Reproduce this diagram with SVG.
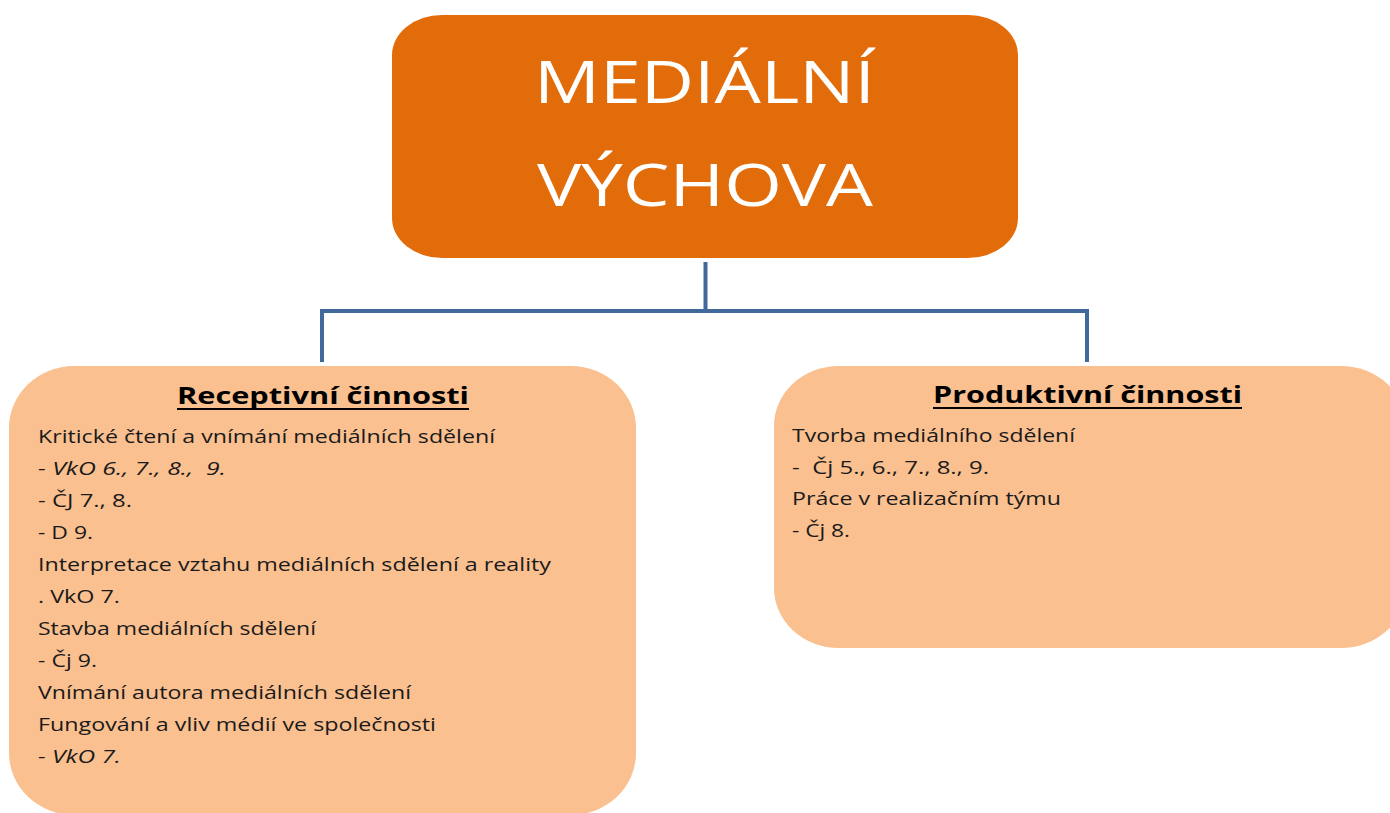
<svg xmlns="http://www.w3.org/2000/svg" width="1390" height="813" viewBox="0 0 1390 813">
<style>
.title{font-family:"Open Sans","Liberation Sans",sans-serif;font-size:59px;fill:#ffffff}
.head{font-family:"Open Sans","Liberation Sans",sans-serif;font-size:23px;font-weight:bold;fill:#000000}
.body{font-family:"Open Sans","Liberation Sans",sans-serif;font-size:18px;fill:#1a1a1a;white-space:pre}
.it{font-style:italic}
.conn{stroke:#41699b;stroke-width:4;fill:none}
.ul{stroke:#000000;stroke-width:2}
</style>
<rect width="1390" height="813" fill="#ffffff"/>
<g id="connectors">
<path class="conn" d="M705.5 262 V311 M322 311 H1087 M322 309 V362 M1087 309 V362"/>
</g>
<g id="node-medialni-vychova">
<rect x="392" y="15" width="626" height="243" rx="50" ry="40" fill="#e36c0a"/>
<text class="title" x="534" y="103" textLength="341" lengthAdjust="spacingAndGlyphs">MEDIÁLNÍ</text>
<text class="title" x="537" y="206" textLength="336" lengthAdjust="spacingAndGlyphs">VÝCHOVA</text>
</g>
<g id="node-receptivni">
<rect x="9" y="366" width="627" height="449" rx="65" ry="62" fill="#fac090"/>
<text class="head" x="177" y="404" textLength="292" lengthAdjust="spacingAndGlyphs">Receptivní činnosti</text>
<line class="ul" x1="177" y1="409" x2="469" y2="409"/>
<text class="body" x="38" y="443" textLength="457" lengthAdjust="spacingAndGlyphs">Kritické čtení a vnímání mediálních sdělení</text>
<text class="body it" x="38" y="475" textLength="188" lengthAdjust="spacingAndGlyphs" xml:space="preserve">- VkO 6., 7., 8.,  9.</text>
<text class="body" x="38" y="507" textLength="94" lengthAdjust="spacingAndGlyphs">- ČJ 7., 8.</text>
<text class="body" x="38" y="539" textLength="55" lengthAdjust="spacingAndGlyphs">- D 9.</text>
<text class="body" x="38" y="571" textLength="513" lengthAdjust="spacingAndGlyphs">Interpretace vztahu mediálních sdělení a reality</text>
<text class="body" x="38" y="603" textLength="82" lengthAdjust="spacingAndGlyphs">. VkO 7.</text>
<text class="body" x="38" y="635" textLength="278" lengthAdjust="spacingAndGlyphs">Stavba mediálních sdělení</text>
<text class="body" x="38" y="667" textLength="59" lengthAdjust="spacingAndGlyphs">- Čj 9.</text>
<text class="body" x="38" y="699" textLength="373" lengthAdjust="spacingAndGlyphs">Vnímání autora mediálních sdělení</text>
<text class="body" x="38" y="731" textLength="398" lengthAdjust="spacingAndGlyphs">Fungování a vliv médií ve společnosti</text>
<text class="body it" x="38" y="763" textLength="83" lengthAdjust="spacingAndGlyphs">- VkO 7.</text>
</g>
<g id="node-produktivni">
<rect x="774" y="366" width="632" height="282" rx="65" ry="60" fill="#fac090"/>
<text class="head" x="933" y="403" textLength="309" lengthAdjust="spacingAndGlyphs">Produktivní činnosti</text>
<line class="ul" x1="933" y1="408" x2="1242" y2="408"/>
<text class="body" x="792" y="442" textLength="283" lengthAdjust="spacingAndGlyphs">Tvorba mediálního sdělení</text>
<text class="body" x="792" y="474" textLength="197" lengthAdjust="spacingAndGlyphs" xml:space="preserve">-  Čj 5., 6., 7., 8., 9.</text>
<text class="body" x="792" y="505" textLength="269" lengthAdjust="spacingAndGlyphs">Práce v realizačním týmu</text>
<text class="body" x="792" y="537" textLength="58" lengthAdjust="spacingAndGlyphs">- Čj 8.</text>
</g>
</svg>
